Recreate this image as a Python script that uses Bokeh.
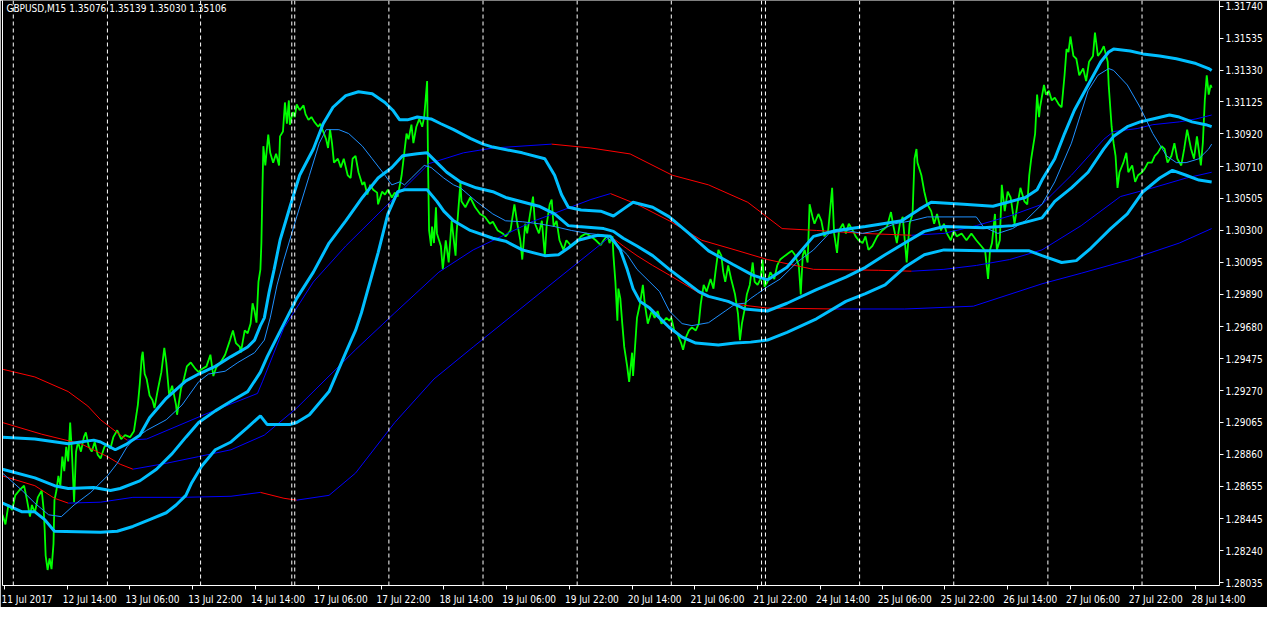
from bokeh.plotting import figure
from bokeh.models import Range1d, FixedTicker, PrintfTickFormatter, Span, Label, ColumnDataSource, LinearAxis
from bokeh.embed import file_html
from bokeh.resources import INLINE

FONT = "'Liberation Sans Narrow', 'DejaVu Sans Condensed', 'Liberation Sans', sans-serif"

# ---- data (prices in points, 1 point = 0.00001) ; x = bar index (M15 bars) ----
close_x = [0,3,6,10,13,17,22,25,28,30,33,36,40,42,43,44,46,48,50,52,53,55,57,59,61,63,65,67,69,71,73,75,77,80,83,85,88,91,94,97,
           100,104,107,110,113,117,121,125,130,134,138,140,142,143,145,147,150,153,155,158,162,165,167,170,173,177,178,182,185,188,
           192,197,200,203,208,212,215,218,223,227,232,235,238,242,243,247,250,253,255,257,259,261,263,264,265,266,268,271,273,276,
           279,282,283,286,288,290,292,293,296,298,300,303,307,309,312,315,318,322,324,327,330,332,334,336,338,342,345,348,352,355,
           357,360,363,367,369,372,375,378,382,383,387,390,393,397,400,403,407,409,412,414,417,419,422,425,428,430,433,434,435,437,
           438,440,442,443,447,449,452,455,458,462,463,467,468,472,477,482,487,492,497,500,505,510,513,518,522,525,528,530,533,535,
           538,541,543,547,550,553,555,558,560,562,565,568,572,575,580,585,590,595,600,605,610,613,617,619,622,623,625,627,628,630,
           632,634,637,639,642,643,647,650,653,655,658,662,665,668,672,677,680,682,685,688,692,694,697,700,703,707,710,712,715,718,
           722,725,727,730,733,735,737,740,743,747,750,752,754,757,759,762,765,767,770,773,775,777,780,783,787,790,793,798,802,805,
           808,812,814,816,818,821,823,826,828,832,835,838,842,846,848,851,853,857,860,863,867,870,873,877,880,883,887,892,897,902,
           906,908,912,915,918,922,925,928,930,932,933,937,940,943,947,950,953,957,960,963,967,970,973,978,983,988,993,998,1002,1005,
           1007,1009,1012,1014,1017,1019,1022,1025,1028,1032,1035,1038,1042,1045,1047,1049,1051,1053,1055,1057,1058,1062,1064,1067,1070,1073,
           1077,1080,1083,1085,1087,1089,1092,1095,1098,1102,1105,1108,1112,1114,1117,1120,1123,1127,1128,1131,1133,1135,1137,1139,
           1143,1146,1148,1152,1155,1158,1162,1165,1168,1172,1175,1178,1182,1185,1188,1192,1195,1198,1202,1205,1208,1212,1215,1218,
           1222,1224,1226,1228,1230,1232,1233]
close_v = [128471,128409,128534,128502,128596,128627,128658,128565,128459,128534,128484,128583,128627,128502,128378,128209,128116,128191,128122,128284,
           128565,128627,128721,128658,128845,128752,128908,128814,129064,128845,128552,128877,128939,128877,128970,129001,128908,128877,128939,128858,
           128833,128908,128927,128895,128970,129014,128958,128983,128970,129008,129176,129313,129488,129519,129376,129344,129238,129207,129157,129263,
           129388,129544,129450,129238,129301,129176,129114,129282,129344,129425,129450,129407,129388,129407,129425,129500,129363,129419,129457,129500,
           129594,129656,129575,129550,129513,129656,129638,129700,129831,129781,129706,129968,130049,130218,130548,130841,130717,130916,130798,130735,
           130792,130717,130904,130935,131122,130985,131135,130979,131060,131028,131110,131072,131103,131047,131010,131028,130997,130966,130985,130935,
           130885,130829,130947,130860,130735,130760,130704,130760,130654,130636,130760,130779,130673,130592,130611,130530,130592,130561,130542,130467,
           130548,130530,130561,130511,130542,130517,130654,130760,130922,130885,130979,130860,130966,131016,130966,131028,131259,130698,130299,130199,
           130324,130218,130448,130280,130199,130049,130236,130093,130361,130137,130280,130611,130486,130448,130511,130448,130405,130386,130342,130355,
           130299,130280,130261,130299,130467,130342,130236,130112,130342,130280,130405,130517,130342,130280,130361,130137,130342,130467,130498,130324,
           130361,130236,130174,130236,130199,130218,130261,130280,130261,130236,130205,130236,130268,130218,130261,130137,129968,129719,129925,129862,
           129700,129550,129425,129326,129513,129363,129737,129825,129949,129825,129700,129781,129737,129781,129700,129737,129719,129737,129656,129638,
           129575,129532,129613,129656,129675,129656,129700,129825,129949,129906,129987,129925,130031,130174,130137,130031,129968,130074,129987,129887,
           129762,129594,129700,129800,129887,129949,130093,129968,129949,129987,130112,129937,129968,130031,129987,130074,130112,130137,130155,130168,
           130143,130074,129887,130137,130174,130093,130467,130386,130342,130405,130361,130261,130299,130573,130280,130155,130299,130342,130280,130342,
           130299,130261,130236,130218,130261,130174,130199,130261,130299,130324,130417,130342,130218,130342,130386,130093,130342,130405,130760,130823,
           130735,130654,130548,130467,130423,130342,130405,130299,130342,130280,130236,130299,130261,130280,130236,130280,130236,130199,130168,129987,
           130174,130218,130405,130174,130236,130592,130423,130548,130511,130342,130467,130573,130486,130467,130654,130760,130841,130922,131172,131028,
           131091,131234,131172,131197,131135,131153,131110,131091,131297,131465,131446,131546,131421,131403,131297,131340,131259,131384,131421,131571,
           131421,131446,131484,131384,131234,130966,130860,130779,130573,130673,130735,130798,130673,130717,130611,130654,130673,130698,130735,130735,
           130779,130798,130841,130823,130735,130779,130860,130760,130717,130823,130947,130823,130760,130904,130717,130860,131135,131297,131172,131234,
           131216]

bb_up_x = [0,33,67,93,100,115,127,140,150,167,187,200,217,233,250,257,263,267,272,277,283,293,303,317,327,337,350,363,377,390,398,405,413,423,
           437,447,460,477,490,500,530,553,563,570,577,590,610,623,633,643,663,680,700,720,745,765,780,800,827,850,880,917,935,947,980,1010,
           1043,1055,1060,1073,1083,1093,1107,1120,1128,1133,1150,1163,1180,1197,1217,1230,1233]
bb_up_v = [128970,128958,128927,128951,128939,128889,128927,128983,129095,129220,129332,129376,129425,129488,129550,129594,129687,129737,129906,
           130049,130236,130448,130654,130823,130985,131091,131166,131191,131178,131122,131072,131010,131010,131028,131016,130985,130947,130891,
           130854,130835,130798,130760,130654,130530,130448,130430,130423,130392,130436,130480,130448,130386,130280,130168,130080,130012,129981,
           130062,130261,130299,130324,130361,130436,130480,130467,130455,130511,130561,130623,130760,130922,131072,131234,131384,131446,131465,
           131453,131434,131421,131403,131372,131340,131328]

bb_mid_x = [0,33,53,67,93,110,120,140,157,173,187,200,217,233,250,263,270,280,290,300,317,333,350,367,383,397,408,423,433,443,453,467,483,
            500,513,547,563,577,587,613,623,633,647,663,680,697,710,720,740,757,780,800,830,860,880,900,920,940,960,1000,1030,1060,1073,1090,
            1107,1123,1133,1147,1160,1173,1190,1200,1213,1227,1233]
bb_mid_v = [128764,128708,128658,128640,128646,128627,128640,128689,128764,128864,128970,129064,129139,129201,129263,129388,129488,129613,
            129737,129862,130031,130218,130361,130511,130636,130704,130779,130792,130798,130735,130673,130611,130573,130548,130511,130455,130405,
            130330,130324,130311,130293,130249,130199,130137,130049,129968,129906,129875,129843,129794,129781,129831,129918,129999,130062,130143,
            130218,130293,130324,130317,130330,130380,130486,130573,130673,130823,130904,130966,130997,131016,131041,131028,130997,130979,130966]

bb_low_x = [0,20,33,43,53,100,117,133,150,167,177,187,193,203,217,233,250,263,270,293,300,313,333,350,360,366,372,377,383,393,403,410,433,
            443,450,460,477,500,513,530,553,567,577,587,607,620,630,637,643,650,660,670,680,693,707,730,747,763,780,800,830,860,880,900,920,
            940,960,1000,1047,1060,1080,1095,1110,1130,1147,1163,1180,1193,1207,1220,1233]
bb_low_v = [128546,128490,128490,128440,128365,128359,128365,128396,128440,128484,128534,128596,128677,128783,128889,128939,129033,129107,
            129051,129051,129064,129114,129263,129513,129656,129769,129906,130018,130155,130405,130548,130561,130561,130486,130423,130361,130299,
            130249,130230,130174,130137,130143,130186,130236,130268,130261,130174,130049,129925,129843,129800,129737,129675,129613,129575,129563,
            129575,129581,129594,129644,129731,129843,129893,129949,130062,130143,130174,130168,130168,130137,130093,130105,130186,130311,130405,
            130548,130636,130685,130654,130623,130611]

ma_fast_x = [0,20,33,47,60,73,90,107,117,127,133,147,167,183,200,210,227,240,257,267,273,280,287,292,300,313,323,330,343,353,367,377,390,
             397,405,410,417,430,437,450,460,467,483,500,513,530,547,563,580,597,613,627,637,647,660,670,680,693,703,720,737,747,757,763,770,
             780,793,810,827,843,860,877,893,910,927,943,993,1000,1015,1030,1043,1060,1073,1090,1107,1117,1128,1133,1147,1160,1173,1187,1197,
             1207,1220,1230,1233]
ma_fast_v = [128739,128627,128546,128471,128459,128534,128615,128721,128802,128908,128951,129014,129082,129176,129326,129376,129394,129450,
             129513,129594,129737,129949,130112,130218,130386,130654,130860,130947,130947,130922,130841,130760,130654,130592,130611,130592,130636,
             130717,130704,130636,130592,130573,130486,130405,130361,130355,130342,130324,130299,130280,130268,130205,130143,130049,129968,129906,
             129781,129700,129687,129706,129781,129825,129831,129862,129893,129937,129987,130093,130174,130280,130299,130280,130299,130342,130361,
             130386,130386,130324,130280,130311,130361,130467,130611,130860,131197,131297,131340,131328,131234,131091,130922,130779,130735,130735,
             130760,130823,130854]

ma1_x = [0,33,67,87,100,110,127,147,210,260,265,287,317,350,383,410,435,470,500,560,600,640,683,720,760,795,830,877,927,960,993,1027,1060,
         1090,1123,1133,1157,1173,1200,1217,1233]
ma1_v = [129407,129357,129263,129170,129082,129033,128951,128958,129126,129251,129326,129674,129968,130199,130405,130573,130729,130798,130829,
         130854,130829,130791,130654,130592,130480,130311,130299,130280,130268,130280,130330,130392,130467,130654,130885,130935,130954,130979,
         130997,131016,131041]

ma2_x = [0,40,80,107,120,133,167,200,233,267,300,333,360,400,445,480,540,600,620,647,680,713,747,780,827,893,927,960,993,1027,1060,1100,
         1140,1173,1207,1233]
ma2_v = [129064,128989,128927,128845,128796,128764,128802,128845,128889,128983,129157,129363,129532,129769,130031,130174,130355,130498,
         130536,130467,130361,130236,130174,130112,130049,130043,130037,130049,130074,130112,130174,130330,130517,130573,130636,130673]

ma3_x = [0,33,53,67,100,133,183,233,263,287,300,333,360,400,440,480,550,620,633,647,663,680,713,747,780,850,920,990,1060,
         1100,1150,1200,1233]
ma3_v = [128721,128658,128577,128546,128552,128583,128583,128590,128615,128577,128565,128596,128739,129064,129344,
         129550,129906,130261,130199,130137,130074,130012,129887,129825,129800,129794,129794,129812,129956,130024,130112,130218,130311]

day_sep_x = [11,107,202,295,298,394,490,586,682,774,778,874,970,1066,1162]
time_tick_x = [2,66,130,194,258,322,386,450,514,578,642,706,770,834,897,961,1025,1089,1153,1217]
time_tick_labels = ["11 Jul 2017","12 Jul 14:00","13 Jul 06:00","13 Jul 22:00","14 Jul 14:00","17 Jul 06:00","17 Jul 22:00",
                    "18 Jul 14:00","19 Jul 06:00","19 Jul 22:00","20 Jul 14:00","21 Jul 06:00","21 Jul 22:00","24 Jul 14:00",
                    "25 Jul 06:00","25 Jul 22:00","26 Jul 14:00","27 Jul 06:00","27 Jul 22:00","28 Jul 14:00"]
price_ticks = [1.31740,1.31535,1.31330,1.31125,1.30920,1.30710,1.30505,1.30300,1.30095,1.29890,
               1.29680,1.29475,1.29270,1.29065,1.28860,1.28655,1.28445,1.28240,1.28035]
header_text = "GBPUSD,M15  1.35076 1.35139 1.35030 1.35106"

PT = 1e-5
X_END = 1241
Y_START, Y_END = 1.280163, 1.317774
def prices(v):
    return [a * PT for a in v]

p = figure(width=1267, height=607, output_backend="svg", toolbar_location=None,
           x_range=Range1d(0, X_END), y_range=Range1d(Y_START, Y_END),
           y_axis_location="right", background_fill_color="black", border_fill_color="black",
           min_border_left=2, min_border_top=0, min_border_right=48, min_border_bottom=20)
p.outline_line_color = None
p.grid.visible = False

# x axis: MT4 style, label starts at its tick -> label centred half a label width right of tick
LABEL_HALF = 23
label_centres = [t + LABEL_HALF for t in time_tick_x]
xa = p.xaxis[0]
xa.ticker = FixedTicker(ticks=label_centres, minor_ticks=time_tick_x)
xa.major_label_overrides = {c: s for c, s in zip(label_centres, time_tick_labels)}
xa.major_tick_line_color = None
xa.minor_tick_line_color = "white"
xa.minor_tick_in = 0
xa.minor_tick_out = 4

ya = p.yaxis[0]
ya.ticker = FixedTicker(ticks=price_ticks)
ya.formatter = PrintfTickFormatter(format="%.5f")
ya.major_tick_line_color = "white"
ya.major_tick_in = 0
ya.major_tick_out = 4
ya.minor_tick_line_color = None
for ax in (xa, ya):
    ax.axis_line_color = "white"
    ax.major_label_text_color = "white"
    ax.major_label_text_font = FONT
    ax.major_label_text_font_size = "10px"
    ax.major_label_standoff = 2

left = LinearAxis(axis_line_color="white", ticker=FixedTicker(ticks=[]), major_tick_line_color=None,
                  minor_tick_line_color=None, major_label_standoff=0)
p.add_layout(left, "left")

for xs in day_sep_x:
    p.add_layout(Span(location=xs, dimension="height", line_color="white", line_width=1, line_dash="4 3"))

# price line
p.line(close_x, prices(close_v), line_color="#00FF00", line_width=1.8)

# colour-by-direction moving averages
def seg(xs, vs):
    y = prices(vs)
    cols = ["#0000FF" if b >= a else "#FF0000" for a, b in zip(vs[:-1], vs[1:])]
    return ColumnDataSource(dict(x0=xs[:-1], x1=xs[1:], y0=y[:-1], y1=y[1:], c=cols))

for xs, vs in ((ma1_x, ma1_v), (ma2_x, ma2_v), (ma3_x, ma3_v)):
    p.segment(x0="x0", y0="y0", x1="x1", y1="y1", line_color="c", line_width=1, source=seg(xs, vs))

p.line(ma_fast_x, prices(ma_fast_v), line_color="#1E90FF", line_width=1)

for xs, vs in ((bb_up_x, bb_up_v), (bb_mid_x, bb_mid_v), (bb_low_x, bb_low_v)):
    p.line(xs, prices(vs), line_color="#00BFFF", line_width=3)

p.add_layout(Label(x=4, y=Y_END, text=header_text, text_color="white", text_font=FONT,
                   text_font_size="10px", text_baseline="top", y_offset=-2))

open("out.html", "w").write(file_html(p, INLINE))
